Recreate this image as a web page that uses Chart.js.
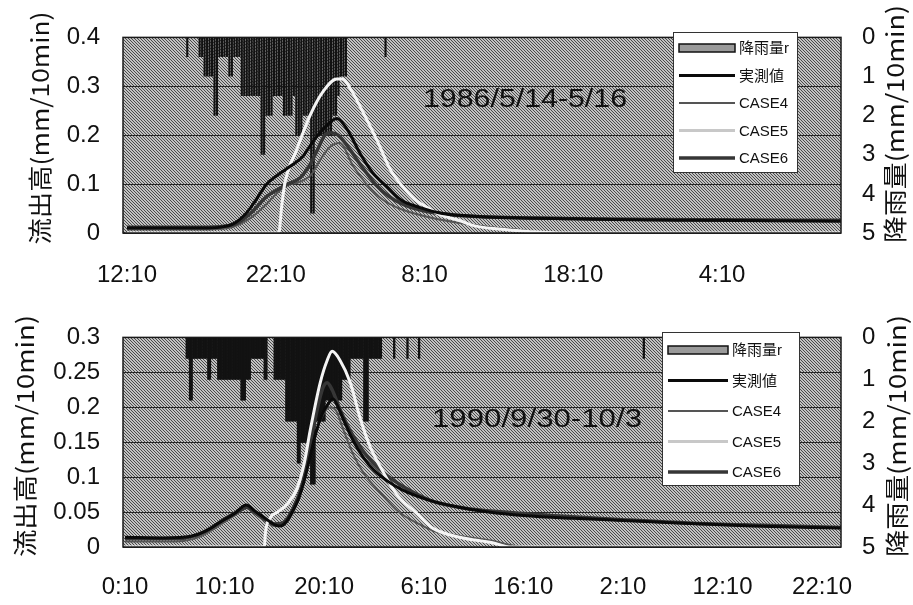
<!DOCTYPE html>
<html>
<head>
<meta charset="utf-8">
<script src="https://cdn.jsdelivr.net/npm/chart.js@4.4.0/dist/chart.umd.min.js"></script>
<style>
body { margin: 0; background: #fff; }
.box { position: absolute; left: 0; width: 913px; }
</style>
</head>
<body>
<div class="box" style="top:0;height:300px"><canvas id="c1" width="913" height="300"></canvas></div>
<div class="box" style="top:300px;height:305px"><canvas id="c2" width="913" height="305"></canvas></div>
<script>
// ---- data: 1986/5/14-5/16 (x = hours after 12:10) ----
var topTickHours = [0, 10, 20, 30, 40];
var topTickLabels = ['12:10', '22:10', '8:10', '18:10', '4:10'];
var topYTicks = [0, 0.1, 0.2, 0.3, 0.4];
var topRainStart = 4.05; // first 10-min bar
var topRain = [0.5, 0, 0, 0, 0, 0.5, 0.5, 1, 1, 1, 1, 2, 2, 0.5, 0.5, 0.5, 0.5, 1, 1, 0.5, 0.5, 0.5,
  1.5, 1.5, 1.5, 1.5, 1.5, 1.5, 1.5, 1.5, 3, 3, 2, 2, 2, 1.5, 1.5, 1.5, 1.5, 2, 2, 2, 2, 1.5,
  2.5, 2.5, 2.5, 2, 2, 2, 4.5, 4.5, 2.5, 2.5, 2.5, 2.5, 2.5, 2.5, 2.5, 2, 2, 1.5, 1, 1, 1];
var topRainExtra = [[17.38, 0.5]];
var topObs = [[0,0.01],[5,0.01],[6.3,0.012],[7.1,0.018],[8,0.04],[8.5,0.06],[9.4,0.1],[10.1,0.118],[11,0.137],
  [11.8,0.156],[12.5,0.187],[13,0.206],[13.6,0.225],[14.1,0.234],[14.8,0.212],[15.7,0.161],[16.5,0.124],
  [17.5,0.094],[18.4,0.068],[19.7,0.052],[21.2,0.04],[23,0.035],[26,0.031],[30,0.029],[34,0.027],[38,0.026],
  [43,0.025],[48,0.024]];
var topCase4 = [[0,0.007],[5,0.007],[6.8,0.01],[7.6,0.018],[8.5,0.035],[9.4,0.06],[10.2,0.085],[10.8,0.098],
  [11.6,0.104],[12.4,0.12],[13,0.15],[13.6,0.175],[14.3,0.184],[15.2,0.137],[16.1,0.1],[17.2,0.068],[18.4,0.049],
  [20.6,0.03],[22.5,0.02],[24.5,0.012],[26.5,0.006],[27.5,0.002],[28.5,0],[48,0]];
var topCase5 = [[0,0],[10.2,0],[10.4,0.055],[10.6,0.1],[11.4,0.17],[12.3,0.24],[13.2,0.29],[14.1,0.315],
  [14.5,0.315],[15,0.296],[15.9,0.245],[16.8,0.19],[17.7,0.13],[18.4,0.1],[19.3,0.07],[20.2,0.052],[21,0.038],
  [22.4,0.025],[23.3,0.015],[25,0.008],[27,0.003],[29,0],[48,0]];
var topCase6 = [[0,0.012],[5,0.012],[6.5,0.014],[7.4,0.02],[8.3,0.04],[9.4,0.075],[10.2,0.09],[10.8,0.1],
  [11.6,0.112],[12.3,0.14],[12.8,0.17],[13.3,0.2],[13.7,0.205],[14.2,0.2],[15,0.17],[15.8,0.135],[16.7,0.1],
  [17.6,0.075],[18.6,0.058],[20,0.045],[22,0.037],[25,0.032],[29,0.03],[34,0.028],[40,0.027],[48,0.026]];

// ---- data: 1990/9/30-10/3 (x = hours after 0:10) ----
var botTickHours = [0, 10, 20, 30, 40, 50, 60, 70];
var botTickLabels = ['0:10', '10:10', '20:10', '6:10', '16:10', '2:10', '12:10', '22:10'];
var botYTicks = [0, 0.05, 0.1, 0.15, 0.2, 0.25, 0.3];
var botRainStart = 6.2;
var botRain = [0.5, 0.5, 1.5, 1.5, 0.5, 0.5, 0.5, 0.5, 0.5, 0.5, 0.5, 0.5, 0.5, 1, 1, 0.5, 0.5, 0.5, 0.5,
  1, 1, 1, 1, 1, 1, 1, 1, 1, 1, 1, 1, 1, 1, 1.5, 1.5, 1.5, 1, 1, 1, 0.5, 0.5, 0.5, 0.5, 0.5, 0.5, 0.5, 0.5,
  1, 1, 0, 0, 0, 0, 1, 1, 1, 1, 1, 1, 1, 2, 2, 2, 2, 2, 2, 2, 3, 3, 2.5, 2.5, 2.5, 2.5, 2.5, 2.5, 3.5, 3.5, 3.5,
  2, 2, 2, 2, 2, 2, 1.5, 1.5, 1.5, 1.5, 1.5, 1.5, 1.5, 1.5, 1.5, 1.5, 1, 1, 1, 1, 1,
  0.5, 0.5, 0.5, 0.5, 0.5, 0.5, 0.5, 0.5, 2, 2, 2, 0.5, 0.5, 0.5, 0.5, 0.5, 0.5, 0.5, 0.5,
  0, 0, 0, 0, 0, 0, 0, 0.5, 0, 0, 0, 0, 0, 0, 0, 0.5, 0, 0, 0, 0, 0, 0, 0.5];
var botRainExtra = [[52.1, 0.5]];
var botObs = [[0,0.014],[4,0.013],[6.5,0.015],[8,0.022],[9.5,0.035],[11,0.048],[12.2,0.06],[13,0.052],[14,0.042],
  [15,0.032],[15.6,0.03],[16.2,0.036],[16.8,0.05],[17.4,0.068],[18,0.095],[18.6,0.13],[19.2,0.165],[19.8,0.19],
  [20.4,0.205],[20.9,0.212],[21.4,0.2],[22,0.18],[23,0.15],[24,0.127],[25,0.11],[26.3,0.095],[27.8,0.082],
  [30.5,0.067],[33.5,0.057],[36.5,0.05],[40,0.045],[45,0.041],[50,0.038],[56,0.034],[63,0.03],[72,0.027]];
var botCase4 = [[0,0.008],[5,0.008],[7,0.012],[8.5,0.022],[10,0.036],[11.5,0.05],[12.2,0.056],[13,0.048],[14,0.038],
  [15,0.03],[15.8,0.03],[16.5,0.04],[17.2,0.06],[17.8,0.085],[18.5,0.125],[19.2,0.165],[19.9,0.19],[20.6,0.2],
  [21.2,0.195],[22,0.165],[23,0.13],[24,0.105],[25.5,0.08],[27.5,0.05],[29.5,0.033],[31,0.023],[33.5,0.016],
  [36.9,0.009],[38.3,0.004],[40,0],[72,0]];
var botCase5 = [[0,0],[14,0],[14.1,0.02],[14.6,0.042],[15.3,0.05],[16.2,0.06],[17.3,0.085],[18,0.12],[18.6,0.167],
  [19.6,0.235],[20.3,0.267],[20.8,0.28],[21.6,0.267],[22.6,0.236],[23.6,0.185],[24.6,0.144],[25.9,0.108],
  [27.3,0.075],[29.3,0.048],[30.9,0.027],[33.6,0.014],[36.9,0.006],[38.7,0],[72,0]];
var botCase6 = [[0,0.012],[5,0.012],[7,0.016],[8.5,0.026],[10,0.04],[11.5,0.052],[12.2,0.057],[13,0.05],[14,0.04],
  [15,0.033],[15.8,0.034],[16.5,0.045],[17.2,0.065],[17.8,0.09],[18.5,0.14],[19.2,0.19],[19.8,0.225],[20.3,0.235],
  [20.8,0.225],[21.5,0.2],[22.3,0.175],[23.3,0.15],[24.3,0.13],[25.5,0.112],[27,0.095],[29,0.078],[31,0.065],
  [34,0.056],[38,0.05],[44,0.044],[50,0.039],[57,0.034],[64,0.031],[72,0.028]];

var seriesLabels = ['降雨量r', '実測値', 'CASE4', 'CASE5', 'CASE6'];
var leftTitle = '流出高(mm/10min)';
var rightTitle = '降雨量(mm/10min)';

var tickFont = { family: '"Liberation Sans", Arial, sans-serif', size: 24 };
var jpFont = '24px "Noto Sans CJK JP", sans-serif';

function halftone(ctx) {
  var t = document.createElement('canvas');
  t.width = 6; t.height = 6;
  var g = t.getContext('2d');
  g.fillStyle = '#c2c2c2';
  g.fillRect(0, 0, 6, 6);
  g.strokeStyle = '#4a4a4a';
  g.lineWidth = 1;
  for (var k = -6; k <= 6; k += 3) {
    g.beginPath(); g.moveTo(k, 0); g.lineTo(k + 6, 6); g.stroke();
  }
  return ctx.createPattern(t, 'repeat');
}

function fitText(ctx, text, cx, cy, len, font, rot) {
  ctx.save();
  ctx.font = font;
  var w = ctx.measureText(text).width;
  ctx.translate(cx, cy);
  if (rot) ctx.rotate(rot);
  ctx.scale(len / w, 1);
  ctx.textAlign = 'center';
  ctx.textBaseline = 'middle';
  ctx.fillStyle = '#111';
  ctx.fillText(text, 0, 0);
  ctx.restore();
}

var decor = {
  id: 'decor',
  beforeDraw: function (chart) {
    var a = chart.chartArea, ctx = chart.ctx;
    ctx.save();
    ctx.fillStyle = halftone(ctx);
    ctx.fillRect(a.left, a.top, a.right - a.left, a.bottom - a.top);
    ctx.restore();
  },
  afterDraw: function (chart, args, o) {
    var a = chart.chartArea, ctx = chart.ctx;
    ctx.save();
    ctx.strokeStyle = '#1a1a1a';
    ctx.lineWidth = 1.5;
    ctx.strokeRect(a.left, a.top, a.right - a.left, a.bottom - a.top);
    ctx.restore();

    fitText(ctx, leftTitle, o.leftTitle[0], o.leftTitle[1], o.leftTitle[2], jpFont, -Math.PI / 2);
    fitText(ctx, rightTitle, o.rightTitle[0], o.rightTitle[1], o.rightTitle[2], jpFont, -Math.PI / 2);
    fitText(ctx, o.note, o.notePos[0], o.notePos[1], o.notePos[2], '25px "Liberation Sans", sans-serif', 0);

    // legend box
    var b = o.legend;
    ctx.save();
    ctx.fillStyle = '#fff';
    ctx.fillRect(b.x, b.y, b.w, b.h);
    ctx.strokeStyle = '#333';
    ctx.lineWidth = 1;
    ctx.strokeRect(b.x + 0.5, b.y + 0.5, b.w, b.h);
    ctx.font = '15px "Liberation Sans", "Noto Sans CJK JP", sans-serif';
    ctx.textBaseline = 'middle';
    chart.data.datasets.forEach(function (ds, i) {
      var y = b.y + b.row0 + i * b.step;
      var x0 = b.x + 6, x1 = x0 + b.sym;
      if (ds.type === 'bar') {
        ctx.fillStyle = '#9a9a9a';
        ctx.fillRect(x0, y - 4, b.sym, 8);
        ctx.strokeStyle = '#111';
        ctx.lineWidth = 1.5;
        ctx.strokeRect(x0, y - 4, b.sym, 8);
      } else {
        ctx.strokeStyle = ds.legendColor || ds.borderColor;
        ctx.lineWidth = ds.borderWidth;
        ctx.beginPath(); ctx.moveTo(x0, y); ctx.lineTo(x1, y); ctx.stroke();
      }
      ctx.fillStyle = '#111';
      ctx.fillText(ds.label, x1 + 4, y + 1);
    });
    ctx.restore();
  }
};

function pts(arr) {
  return arr.map(function (p) { return { x: p[0], y: p[1] }; });
}
function rainPts(start, vals, extra) {
  var out = vals.map(function (v, i) { return { x: start + i / 6, y: v }; });
  extra.forEach(function (p) { out.push({ x: p[0], y: p[1] }); });
  return out;
}

function makeChart(id, c) {
  var line = function (label, data, color, w, order, legendColor) {
    return { type: 'line', label: label, data: pts(data), yAxisID: 'y', borderColor: color, legendColor: legendColor,
      borderWidth: w, pointRadius: 0, cubicInterpolationMode: 'monotone', order: order };
  };
  return new Chart(document.getElementById(id), {
    data: {
      datasets: [
        { type: 'bar', label: seriesLabels[0], data: rainPts(c.rainStart, c.rain, c.rainExtra), yAxisID: 'y2',
          backgroundColor: '#121212', borderWidth: 0, barPercentage: c.barPct, categoryPercentage: 1, order: 10 },
        line(seriesLabels[1], c.obs, '#0a0a0a', 3, 1),
        line(seriesLabels[2], c.case4, '#555555', 2, 4),
        line(seriesLabels[3], c.case5, '#f4f4f4', 3, 2, '#c8c8c8'),
        line(seriesLabels[4], c.case6, '#363636', 3.5, 3)
      ]
    },
    options: {
      responsive: false,
      animation: false,
      devicePixelRatio: 1,
      layout: { padding: { top: c.padTop, left: 0, right: 0, bottom: 0 } },
      plugins: { legend: { display: false }, tooltip: { enabled: false }, decor: c.decor },
      scales: {
        x: {
          type: 'linear', min: c.xMin, max: c.xMax, offset: false,
          afterFit: function (s) { s.height = c.xAxisH; },
          afterBuildTicks: function (s) { s.ticks = c.tickHours.map(function (v) { return { value: v }; }); },
          ticks: { autoSkip: false, maxRotation: 0, padding: c.xPad, font: tickFont, color: '#111',
            callback: function (v) { return c.tickLabels[c.tickHours.indexOf(v)]; } },
          grid: { display: false, drawTicks: false },
          border: { display: false }
        },
        y: {
          position: 'left', min: 0, max: c.yTicks[c.yTicks.length - 1],
          afterFit: function (s) { s.width = 123; },
          afterBuildTicks: function (s) { s.ticks = c.yTicks.map(function (v) { return { value: v }; }); },
          ticks: { padding: 23, font: tickFont, color: '#111', callback: function (v) { return String(+v.toFixed(2)); } },
          grid: { color: '#262626', lineWidth: 1, drawTicks: false },
          border: { display: false }
        },
        y2: {
          position: 'right', reverse: true, min: 0, max: 5,
          afterFit: function (s) { s.width = 72; },
          ticks: { stepSize: 1, padding: 21, font: tickFont, color: '#111' },
          grid: { display: false, drawTicks: false },
          border: { display: false }
        }
      }
    },
    plugins: [decor]
  });
}

makeChart('c1', {
  rainStart: topRainStart, rain: topRain, rainExtra: topRainExtra, barPct: 0.85,
  obs: topObs, case4: topCase4, case5: topCase5, case6: topCase6,
  tickHours: topTickHours, tickLabels: topTickLabels, yTicks: topYTicks,
  xMin: -0.27, xMax: 48.0, padTop: 19, xAxisH: 67, xPad: 28,
  decor: {
    leftTitle: [40, 128, 233], rightTitle: [895, 124, 238],
    note: '1986/5/14-5/16', notePos: [525, 100, 204],
    legend: { x: 673, y: 32, w: 124, h: 140, row0: 16, step: 27.5, sym: 56 }
  }
});

makeChart('c2', {
  rainStart: botRainStart, rain: botRain, rainExtra: botRainExtra, barPct: 1,
  obs: botObs, case4: botCase4, case5: botCase5, case6: botCase6,
  tickHours: botTickHours, tickLabels: botTickLabels, yTicks: botYTicks,
  xMin: -0.2, xMax: 71.9, padTop: 28, xAxisH: 58, xPad: 26,
  decor: {
    leftTitle: [25, 136, 242], rightTitle: [897, 136, 242],
    note: '1990/9/30-10/3', notePos: [537, 120, 210],
    legend: { x: 662, y: 32, w: 137, h: 153, row0: 18, step: 30.5, sym: 60 }
  }
});
</script>
</body>
</html>
